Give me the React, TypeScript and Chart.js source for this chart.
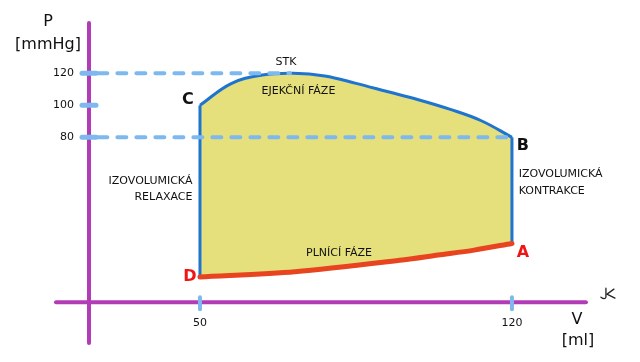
import React, { useEffect, useRef } from "react";
import { Chart, registerables } from "chart.js";

Chart.register(...registerables);

// Ejection phase (C -> STK -> B): volume [ml], pressure [mmHg]
const ejectionVolume = [50, 57, 64, 71, 78, 85, 92, 99, 106, 113, 120];
const ejectionPressure = [100, 113.6, 118.9, 120, 118.3, 113.7, 108.6, 103.5, 97.6, 90.5, 80];

// Filling phase (D -> A)
const fillingVolume = [50, 71.3, 95.4, 103.4, 111.5, 120];
const fillingPressure = [-7.3, -4.0, 3.3, 6.4, 9.5, 13.7];

// Isovolumic relaxation (D -> C) and contraction (B -> A)
const relaxationVolume = [50, 50];
const relaxationPressure = [-7.3, 100];
const contractionVolume = [120, 120];
const contractionPressure = [80, 13.7];

// Dashed guide lines (120 -> STK, 80 -> B)
const stkGuideVolume = [27.2, 70.2];
const stkGuidePressure = [120, 120];
const closeGuideVolume = [27.2, 120];
const closeGuidePressure = [80, 80];

// Axis ticks
const pressureTicks = [80, 100, 120];
const volumeTicks = [50, 120];

// Where the hand-drawn axes cross, in data units
const axisVolume = 25.1;
const axisPressure = -23;

const FONT = '"DejaVu Sans", sans-serif';

const zip = (xs: number[], ys: number[]) => xs.map((x, i) => ({ x, y: ys[i] }));

export default function App() {
  const canvasRef = useRef<HTMLCanvasElement | null>(null);

  useEffect(() => {
    const canvas = canvasRef.current;
    if (!canvas) return;

    const decorPlugin = {
      id: "decor",
      beforeDatasetsDraw(chart: any) {
        const { ctx, scales } = chart;
        const xs = scales.x;
        const ys = scales.y;
        const ax = xs.getPixelForValue(axisVolume);
        const ay = ys.getPixelForValue(axisPressure);
        ctx.save();
        ctx.lineCap = "round";
        ctx.strokeStyle = "#b23cb6";
        ctx.lineWidth = 4;
        ctx.beginPath();
        ctx.moveTo(ax, ys.getPixelForValue(151.4));
        ctx.lineTo(ax, ys.getPixelForValue(-48.6));
        ctx.stroke();
        ctx.beginPath();
        ctx.moveTo(xs.getPixelForValue(17.7), ay);
        ctx.lineTo(xs.getPixelForValue(136.6), ay);
        ctx.stroke();

        ctx.strokeStyle = "#7db9ee";
        ctx.lineWidth = 5;
        pressureTicks.forEach((v) => {
          const y = ys.getPixelForValue(v);
          ctx.beginPath();
          ctx.moveTo(ax - 7, y);
          ctx.lineTo(ax + 7, y);
          ctx.stroke();
        });
        ctx.lineWidth = 4;
        volumeTicks.forEach((v) => {
          const x = xs.getPixelForValue(v);
          ctx.beginPath();
          ctx.moveTo(x, ay - 5);
          ctx.lineTo(x, ay + 7);
          ctx.stroke();
        });
        ctx.restore();
      },
      afterDatasetsDraw(chart: any) {
        const { ctx, scales } = chart;
        const xs = scales.x;
        const ys = scales.y;
        const ax = xs.getPixelForValue(axisVolume);
        const ay = ys.getPixelForValue(axisPressure);
        const px = (v: number) => xs.getPixelForValue(v);
        const py = (p: number) => ys.getPixelForValue(p);
        ctx.save();
        ctx.textBaseline = "middle";
        ctx.fillStyle = "#111";

        // tick labels
        ctx.font = `11px ${FONT}`;
        ctx.textAlign = "right";
        pressureTicks.forEach((v) => ctx.fillText(String(v), ax - 15, py(v)));
        ctx.textAlign = "center";
        volumeTicks.forEach((v) => ctx.fillText(String(v), px(v), ay + 21));

        // axis titles
        ctx.font = `16px ${FONT}`;
        ctx.textAlign = "center";
        ctx.fillText("P", ax - 41, py(151.4) - 1);
        ctx.fillText("[mmHg]", ax - 41, py(151.4) + 22);
        ctx.fillText("V", px(136.6) - 9, ay + 18);
        ctx.fillText("[ml]", px(136.6) - 8, ay + 39);

        // phase annotations
        ctx.font = `11px ${FONT}`;
        ctx.textAlign = "center";
        ctx.fillText("STK", px(69.3), py(127));
        ctx.fillText("EJEKČNÍ FÁZE", px(72.1), py(108.9));
        ctx.fillText("PLNÍCÍ FÁZE", px(81.2), py(7.9));
        ctx.textAlign = "right";
        ctx.fillText("IZOVOLUMICKÁ", px(48.3), py(52.3));
        ctx.fillText("RELAXACE", px(48.3), py(42.9));
        ctx.textAlign = "left";
        ctx.fillText("IZOVOLUMICKÁ", px(121.5), py(57.1));
        ctx.fillText("KONTRAKCE", px(121.5), py(46.4));

        // point letters
        ctx.font = `bold 16px ${FONT}`;
        ctx.textAlign = "center";
        ctx.fillText("C", px(50) - 12, py(100) - 5);
        ctx.fillText("B", px(120) + 11, py(80) + 9);
        ctx.fillStyle = "#f01515";
        ctx.fillText("D", px(50) - 10, py(-7.3));
        ctx.fillText("A", px(120) + 11, py(13.7) + 9);

        // small scribble next to the volume axis end
        ctx.strokeStyle = "#222";
        ctx.lineWidth = 1.3;
        ctx.lineCap = "round";
        const sx = px(136.6) + 16;
        const sy = ay - 8;
        ctx.beginPath();
        ctx.moveTo(sx + 4, sy - 6);
        ctx.lineTo(sx + 4, sy + 3);
        ctx.quadraticCurveTo(sx + 3, sy + 6, sx - 1, sy + 3);
        ctx.stroke();
        ctx.beginPath();
        ctx.moveTo(sx + 12, sy - 5);
        ctx.lineTo(sx + 5, sy);
        ctx.lineTo(sx + 13, sy + 4);
        ctx.stroke();
        ctx.restore();
      },
    };

    const chart = new Chart(canvas, {
      type: "line",
      data: {
        datasets: [
          {
            label: "Ejekční fáze",
            data: zip(ejectionVolume, ejectionPressure),
            borderColor: "#1f74d0",
            borderWidth: 3,
            backgroundColor: "#e5e07b",
            fill: 1,
            tension: 0.4,
            pointRadius: 0,
            order: 4,
          },
          {
            label: "Plnící fáze",
            data: zip(fillingVolume, fillingPressure),
            borderColor: "#e8441f",
            borderWidth: 5,
            borderCapStyle: "round",
            fill: false,
            tension: 0.3,
            pointRadius: 0,
            order: 2,
          },
          {
            label: "Izovolumická relaxace",
            data: zip(relaxationVolume, relaxationPressure),
            borderColor: "#1f74d0",
            borderWidth: 3,
            fill: false,
            pointRadius: 0,
            order: 3,
          },
          {
            label: "Izovolumická kontrakce",
            data: zip(contractionVolume, contractionPressure),
            borderColor: "#1f74d0",
            borderWidth: 3,
            fill: false,
            pointRadius: 0,
            order: 3,
          },
          {
            label: "STK",
            data: zip(stkGuideVolume, stkGuidePressure),
            borderColor: "#7db9ee",
            borderWidth: 4,
            borderDash: [9, 10],
            borderCapStyle: "round",
            fill: false,
            pointRadius: 0,
            order: 0,
          },
          {
            label: "80",
            data: zip(closeGuideVolume, closeGuidePressure),
            borderColor: "#7db9ee",
            borderWidth: 4,
            borderDash: [9, 10],
            borderCapStyle: "round",
            fill: false,
            pointRadius: 0,
            order: 0,
          },
        ],
      },
      options: {
        animation: false,
        responsive: false,
        maintainAspectRatio: false,
        layout: { padding: 0 },
        plugins: {
          legend: { display: false },
          tooltip: { enabled: false },
          title: { display: false },
        },
        scales: {
          x: { type: "linear", min: 5.13, max: 148.73, display: false },
          y: { type: "linear", min: -60.4, max: 165.8, display: false },
        },
      } as any,
      plugins: [decorPlugin],
    });

    return () => chart.destroy();
  }, []);

  return (
    <div style={{ position: "fixed", left: 0, top: 0, width: 640, height: 362, background: "#fff" }}>
      <canvas ref={canvasRef} width={640} height={362} style={{ width: 640, height: 362, display: "block" }} />
    </div>
  );
}
